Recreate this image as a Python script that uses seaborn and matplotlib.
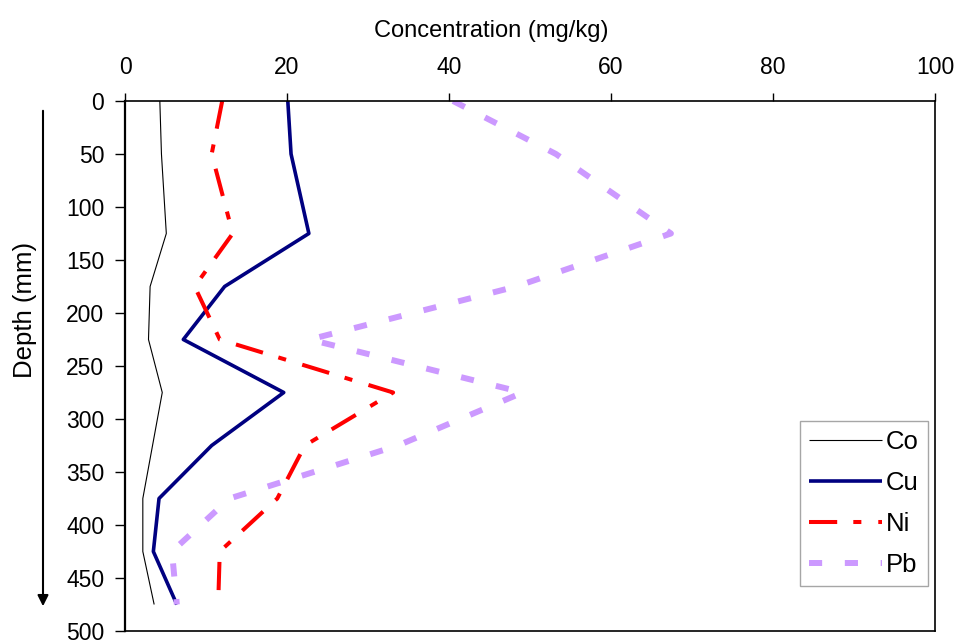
import matplotlib
matplotlib.use("Agg")
import matplotlib.pyplot as plt
import seaborn as sns
import pandas as pd

# ---- data ----
depth = [0, 50, 125, 175, 225, 275, 325, 375, 425, 475]
co = [4.3, 4.5, 5.1, 3.1, 2.9, 4.6, 3.4, 2.2, 2.2, 3.6]
cu = [20.1, 20.5, 22.7, 12.3, 7.2, 19.6, 10.7, 4.2, 3.5, 6.4]
ni = [12.0, 10.7, 13.3, 8.6, 11.7, 33.1, 22.2, 18.8, 11.7, 11.5]
pb = [40.5, 53.2, 67.4, 48.3, 22.8, 49.1, 33.7, 12.9, 5.8, 6.4]
metals = ["Co", "Cu", "Ni", "Pb"]
x_ticks = [0, 20, 40, 60, 80, 100]
y_ticks = [0, 50, 100, 150, 200, 250, 300, 350, 400, 450, 500]

sns.set_style("white")
plt.rcParams["font.family"] = ["Liberation Sans", "DejaVu Sans"]
plt.rcParams["text.color"] = "black"
plt.rcParams["axes.labelcolor"] = "black"
plt.rcParams["xtick.color"] = "black"
plt.rcParams["ytick.color"] = "black"

frames = []
for name, vals in zip(metals, [co, cu, ni, pb]):
    frames.append(pd.DataFrame({"metal": name, "conc": vals, "depth": depth}))
df = pd.concat(frames, ignore_index=True)

styles = {
    "Co": dict(color="black", linewidth=0.8, linestyle="-"),
    "Cu": dict(color="#000080", linewidth=2.6, linestyle="-"),
    "Ni": dict(color="#FF0000", linewidth=2.9, linestyle=(0, (7, 4, 2, 4.2))),
    "Pb": dict(color="#CC99FF", linewidth=4.3, linestyle=(0, (2.2, 3.8))),
}

fig = plt.figure(figsize=(9.59, 6.42), dpi=100)
ax = fig.add_axes([125 / 959, 1 - 631 / 642, 810 / 959, 530 / 642])

for name in metals:
    sub = df[df["metal"] == name]
    sns.lineplot(data=sub, x="conc", y="depth", ax=ax, sort=False,
                 estimator=None, label=name, **styles[name])

ax.set_xlim(0, 100)
ax.set_ylim(500, 0)
ax.set_xticks(x_ticks)
ax.set_yticks(y_ticks)
ax.xaxis.tick_top()
ax.set_xlabel("")
ax.set_ylabel("")
ax.tick_params(axis="x", which="both", top=True, bottom=False, direction="out",
               length=6, width=1, pad=10, labelsize=16.5, colors="black")
ax.tick_params(axis="y", which="both", left=True, direction="out",
               length=7, width=1, pad=8, labelsize=16.5, colors="black")
for s in ax.spines.values():
    s.set_visible(True)
    s.set_color("black")
    s.set_linewidth(1.2)
ax.spines["left"].set_linewidth(1.6)

for ln in ax.get_lines():
    ln.set_dash_capstyle("butt")
    ln.set_solid_capstyle("butt")

leg = ax.legend(loc="upper left", bbox_to_anchor=((800 - 125) / 810, (631 - 421) / 530),
                fontsize=18.5, frameon=True, fancybox=False, framealpha=1,
                edgecolor="#A6A6A6", handlelength=2.85, handletextpad=0.15,
                labelspacing=0.66, borderpad=0.35, borderaxespad=0)
leg.get_frame().set_linewidth(1.0)
for t in leg.get_texts():
    t.set_color("black")

fig.text(491 / 959, 1 - 31 / 642, "Concentration (mg/kg)", ha="center",
         va="center", fontsize=17, color="black")
fig.text(25 / 959, 1 - 310 / 642, "Depth (mm)", ha="center", va="center",
         rotation=90, fontsize=18.5, color="black")

fig.patches.append(matplotlib.patches.FancyArrowPatch(
    (43 / 959, 1 - 108 / 642), (43 / 959, 1 - 609 / 642),
    transform=fig.transFigure, arrowstyle="-|>", mutation_scale=16,
    linewidth=1.5, color="black"))

fig.savefig("out.png", dpi=100)
